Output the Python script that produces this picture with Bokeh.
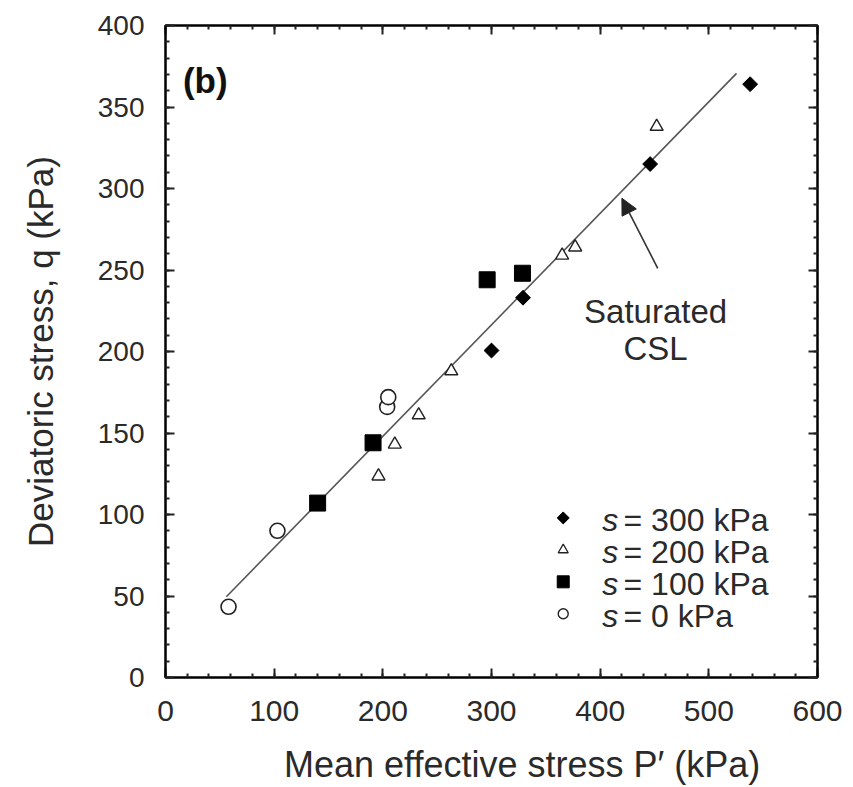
import numpy as np
from bokeh.plotting import figure
from bokeh.models import (Range1d, LinearAxis, SingleIntervalTicker, Arrow, NormalHead,
                          CustomJSTickFormatter)
from bokeh.core.properties import value
from bokeh.embed import file_html
from bokeh.resources import INLINE

# ---- data (kPa) ----
s300_p = [300, 329, 446, 538]
s300_q = [200.6, 233, 315, 364]

s200_p = [196, 211, 233, 263, 365, 377, 452]
s200_q = [123.5, 143, 161, 188, 259, 264, 338]

s100_p = [140, 191, 296, 328.5]
s100_q = [107, 144, 244, 248]

s0_p = [58, 103, 204, 205]
s0_q = [43.4, 90, 166, 172]

csl_p = [56, 525.5]
csl_q = [49.5, 370.6]

legend_labels = ["= 300 kPa", "= 200 kPa", "= 100 kPa", "= 0 kPa"]

FONT = "Liberation Sans"
TXT = "#2a2a2a"

p = figure(width=845, height=787, output_backend="svg", toolbar_location=None,
           x_range=Range1d(0, 600), y_range=Range1d(0, 400),
           min_border_left=165, min_border_right=28, min_border_top=25, min_border_bottom=108)
p.grid.visible = False
p.outline_line_color = "black"
p.outline_line_width = 2
p.background_fill_color = "white"

p.xaxis.ticker = SingleIntervalTicker(interval=100, num_minor_ticks=5)
p.yaxis.ticker = SingleIntervalTicker(interval=50, num_minor_ticks=5)

p.xaxis.axis_label = "\u2003\u2002\u2009Mean effective stress P\u2032 (kPa)"
p.yaxis.axis_label = "Deviatoric stress, q (kPa)"


def style_axis(ax):
    ax.axis_line_color = "black"
    ax.axis_line_width = 2
    ax.major_tick_in = 9
    ax.major_tick_out = 0
    ax.minor_tick_in = 4
    ax.minor_tick_out = 0
    ax.major_tick_line_width = 2
    ax.minor_tick_line_width = 2
    ax.major_tick_line_color = "#222222"
    ax.minor_tick_line_color = "#222222"
    ax.major_label_text_font = FONT
    ax.major_label_text_color = TXT
    ax.axis_label_text_font = FONT
    ax.axis_label_text_font_style = "normal"
    ax.axis_label_text_color = TXT


for ax in p.xaxis + p.yaxis:
    style_axis(ax)
p.xaxis.major_label_text_font_size = "30px"
p.xaxis.axis_label_text_font_size = "36px"
p.xaxis.major_label_standoff = 23
p.xaxis.axis_label_standoff = 20
p.yaxis.major_label_text_font_size = "28px"
p.yaxis.axis_label_text_font_size = "35px"
p.yaxis.major_label_standoff = 21
p.yaxis.axis_label_standoff = 35

blank = CustomJSTickFormatter(code="return ''")
top = LinearAxis(ticker=SingleIntervalTicker(interval=100, num_minor_ticks=5), formatter=blank)
right = LinearAxis(ticker=SingleIntervalTicker(interval=50, num_minor_ticks=5), formatter=blank)
for ax in (top, right):
    style_axis(ax)
    ax.major_label_standoff = 0
    ax.major_label_text_font_size = "8px"
p.add_layout(top, "above")
p.add_layout(right, "right")

# ---- CSL line ----
p.line(csl_p, csl_q, line_color="#555555", line_width=1.6)

# ---- data points ----
p.scatter(s300_p, s300_q, marker="square", angle=np.pi / 4, size=10.5,
          fill_color="black", line_color="black")
p.scatter(s200_p, s200_q, marker="triangle", size=13,
          fill_color="white", line_color="#222222", line_width=1.4)
p.scatter(s100_p, s100_q, marker="square", size=16,
          fill_color="black", line_color="black")
p.scatter(s0_p, s0_q, marker="circle", size=15,
          fill_color="white", line_color="#222222", line_width=1.6)

# ---- arrow + annotation ----
p.add_layout(Arrow(end=NormalHead(size=16, fill_color="#222222", line_color="#222222"),
                   x_start=453, y_start=251, x_end=420, y_end=294,
                   line_color="#333333", line_width=1.6))
p.text(x=[451, 451], y=[224.5, 202], text=["Saturated", "CSL"],
       text_font=value(FONT), text_font_size="33px", text_align="center",
       text_baseline="alphabetic", text_color=TXT)

p.text(x=[16], y=[366], text=["(b)"], text_font=value(FONT), text_font_size="35px",
       text_font_style="bold", text_baseline="alphabetic", text_color="#111111")

# ---- legend (manual) ----
leg_x = 366
leg_y = [97.9, 78.3, 58.7, 39.1]
p.scatter([leg_x], [leg_y[0]], marker="square", angle=np.pi / 4, size=8.5,
          fill_color="black", line_color="black")
p.scatter([leg_x], [leg_y[1]], marker="triangle", size=10,
          fill_color="white", line_color="#222222", line_width=1.3)
p.scatter([leg_x], [leg_y[2]], marker="square", size=12,
          fill_color="black", line_color="black")
p.scatter([leg_x], [leg_y[3]], marker="circle", size=10,
          fill_color="white", line_color="#222222", line_width=1.4)
p.text(x=[402] * 4, y=[v - 1.5 for v in leg_y], text=["s"] * 4, text_font=value(FONT),
       text_font_size="32px", text_font_style="italic", text_baseline="middle",
       text_color=TXT)
p.text(x=[421.5] * 4, y=[v - 1.5 for v in leg_y], text=legend_labels, text_font=value(FONT),
       text_font_size="32px", text_baseline="middle", text_color=TXT)

open("out.html", "w").write(file_html(p, INLINE))
